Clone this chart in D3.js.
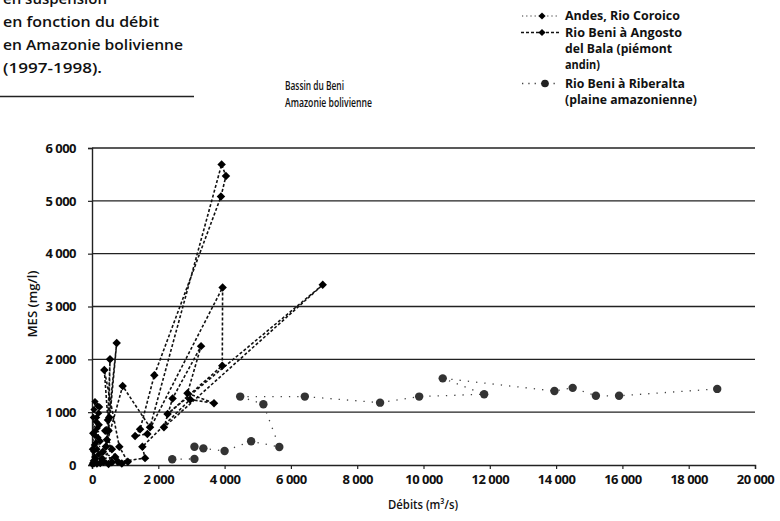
<!DOCTYPE html>
<html>
<head>
<meta charset="utf-8">
<script src="https://cdn.jsdelivr.net/npm/d3@7"></script>
<style>
  body { margin: 0; background: #fff; }
  svg { display: block; font-family: "Open Sans", "Noto Sans", sans-serif; }
</style>
</head>
<body>
<div id="chart"></div>
<script>
// axis ticks
const xTicks = [0, 2000, 4000, 6000, 8000, 10000, 12000, 14000, 16000, 18000, 20000];
const yTicks = [0, 1000, 2000, 3000, 4000, 5000, 6000];

// [debit m3/s, MES mg/l], in sampling order
const coroico = [
  [10, 10], [30, 30], [60, 20], [40, 80], [80, 150], [50, 260], [120, 420], [90, 560],
  [160, 700], [130, 820], [200, 980], [170, 1120], [90, 1200], [60, 1050], [140, 900],
  [100, 640], [220, 760], [180, 520], [70, 380], [150, 300], [250, 450], [200, 200],
  [110, 120], [60, 60], [20, 40], [40, 900], [20, 600], [230, 1100], [10, 300]
];
const angosto = [
  [350, 60], [600, 50], [1080, 60], [824, 346], [371, 1800], [480, 850], [543, 2000],
  [500, 650], [745, 2310], [420, 350], [925, 1495], [1750, 713], [3910, 5690],
  [4040, 5470], [3890, 5080], [1880, 1700], [1450, 675], [1300, 549], [1670, 587],
  [3940, 3360], [3930, 1880], [2280, 965], [6960, 3410], [2170, 713], [2430, 1260],
  [3290, 2250], [2880, 1360], [3680, 1170], [2960, 1240], [1520, 346], [1600, 130],
  [780, 60], [450, 480], [520, 900], [400, 650], [600, 300], [300, 120], [700, 150],
  [250, 40], [150, 30], [500, 20], [900, 30], [330, 250]
];
const riberalta = [
  [2420, 110], [3090, 115], [3090, 345], [3360, 315], [4000, 265], [4800, 450],
  [5650, 340], [5170, 1150], [4470, 1295], [6420, 1295], [8690, 1180], [9870, 1295],
  [11830, 1340], [10580, 1640], [13950, 1400], [14500, 1460], [15200, 1310],
  [15900, 1310], [18860, 1440]
];

const titleLines = ["en suspension", "en fonction du débit", "en Amazonie bolivienne", "(1997-1998)."];
const legendLines = ["Andes, Rio Coroico", "Rio Beni à Angosto", "del Bala (piémont", "andin)",
  "Rio Beni à Riberalta", "(plaine amazonienne)"];

const fr = d3.formatLocale({ decimal: ",", thousands: "\u00a0", grouping: [3], currency: ["", ""] });
const fmt = fr.format(",d");

const width = 780, height = 521;
const svg = d3.select("#chart").append("svg").attr("width", width).attr("height", height);

const x = d3.scaleLinear().domain([0, 20000]).range([92, 755]);
const y = d3.scaleLinear().domain([0, 6000]).range([465, 148]);

// text with a fixed drawn width (the source font is condensed)
function label(g, str, px, py, size, weight, w, anchor) {
  const t = g.append("text").attr("x", px).attr("y", py)
    .attr("font-size", size).attr("font-weight", weight).attr("fill", "#111")
    .attr("text-anchor", anchor || "start").text(str);
  if (w) t.attr("textLength", w).attr("lengthAdjust", "spacingAndGlyphs");
  return t;
}

// title block, top left (first line is cut by the frame, as in the source)
const titleW = [104, 156, 180, 99];
titleLines.forEach((s, i) => label(svg, s, 3, 4 + i * 23, 14.5, 600, titleW[i]));
svg.append("line").attr("x1", 0).attr("x2", 194).attr("y1", 96.5).attr("y2", 96.5)
  .attr("stroke", "#222").attr("stroke-width", 1.4);

// basin annotation
label(svg, "Bassin du Beni", 285, 90, 12, 600, 59);
label(svg, "Amazonie bolivienne", 285, 107, 12, 600, 87);

// grid + axes
const grid = svg.append("g");
grid.selectAll("line.h").data(yTicks.slice(1)).enter().append("line")
  .attr("x1", x(0)).attr("x2", x(20000)).attr("y1", d => y(d)).attr("y2", d => y(d))
  .attr("stroke", "#222").attr("stroke-width", 1.3);

const xAxis = svg.append("g").attr("transform", `translate(0,${y(0)})`)
  .call(d3.axisBottom(x).tickValues(xTicks).tickSize(4).tickFormat(fmt));
const yAxis = svg.append("g").attr("transform", `translate(${x(0)},0)`)
  .call(d3.axisLeft(y).tickValues(yTicks).tickSize(4).tickFormat(fmt));
[xAxis, yAxis].forEach(a => {
  a.select(".domain").attr("stroke", "#222").attr("stroke-width", 1.4);
  a.selectAll(".tick line").attr("stroke", "#222").attr("stroke-width", 1.2);
  a.selectAll(".tick text").attr("font-size", 13).attr("font-weight", 700)
    .attr("letter-spacing", -0.5).attr("fill", "#111").attr("font-family", "\"Open Sans\", sans-serif");
});
xAxis.selectAll(".tick text").attr("dy", "0.9em").attr("y", 7);
yAxis.selectAll(".tick text").attr("x", -16);

label(svg, "Débits (m³/s)", 423, 509, 12, 600, 70, "middle");
label(svg, "MES (mg/l)", 0, 0, 12, 600, 67, "middle")
  .attr("transform", "translate(37,304) rotate(-90)");

// series
const line = d3.line().x(d => x(d[0])).y(d => y(d[1]));
const plot = svg.append("g");

plot.append("path").datum(riberalta).attr("d", line).attr("fill", "none")
  .attr("stroke", "#444").attr("stroke-width", 1.3).attr("stroke-dasharray", "1.3,7");
plot.append("path").datum(angosto).attr("d", line).attr("fill", "none")
  .attr("stroke", "#111").attr("stroke-width", 1.6).attr("stroke-dasharray", "3,2");
plot.append("path").datum(coroico).attr("d", line).attr("fill", "none")
  .attr("stroke", "#111").attr("stroke-width", 1.3).attr("stroke-dasharray", "1.3,1.7");

const diamond = d3.symbol(d3.symbolSquare).size(36);
const smallDiamond = d3.symbol(d3.symbolSquare).size(26);

plot.selectAll("circle.rib").data(riberalta).enter().append("circle")
  .attr("cx", d => x(d[0])).attr("cy", d => y(d[1])).attr("r", 4.2).attr("fill", "#333");
plot.selectAll("path.ang").data(angosto).enter().append("path")
  .attr("d", diamond).attr("fill", "#000")
  .attr("transform", d => `translate(${x(d[0])},${y(d[1])}) rotate(45)`);
plot.selectAll("path.cor").data(coroico).enter().append("path")
  .attr("d", smallDiamond).attr("fill", "#000")
  .attr("transform", d => `translate(${x(d[0])},${y(d[1])}) rotate(45)`);

// legend
const leg = svg.append("g");
const legY = [20, 36.5, 52.5, 69, 87.5, 104];
const legW = [115, 117, 107, 35, 120, 132];
legendLines.forEach((s, i) => label(leg, s, 565, legY[i], 12.5, 700, legW[i]));
leg.append("line").attr("x1", 522).attr("x2", 559).attr("y1", 16).attr("y2", 16)
  .attr("stroke", "#333").attr("stroke-width", 1.2).attr("stroke-dasharray", "1.2,3");
leg.append("path").attr("d", smallDiamond).attr("transform", "translate(542,16) rotate(45)");
leg.append("line").attr("x1", 521).attr("x2", 559).attr("y1", 32.5).attr("y2", 32.5)
  .attr("stroke", "#111").attr("stroke-width", 1.3).attr("stroke-dasharray", "3,2");
leg.append("path").attr("d", smallDiamond).attr("transform", "translate(542,32.5) rotate(45)");
leg.append("line").attr("x1", 522).attr("x2", 559).attr("y1", 83.5).attr("y2", 83.5)
  .attr("stroke", "#444").attr("stroke-width", 1.3).attr("stroke-dasharray", "1.3,5");
leg.append("circle").attr("cx", 545).attr("cy", 83.5).attr("r", 3.8).attr("fill", "#222");
</script>
</body>
</html>
